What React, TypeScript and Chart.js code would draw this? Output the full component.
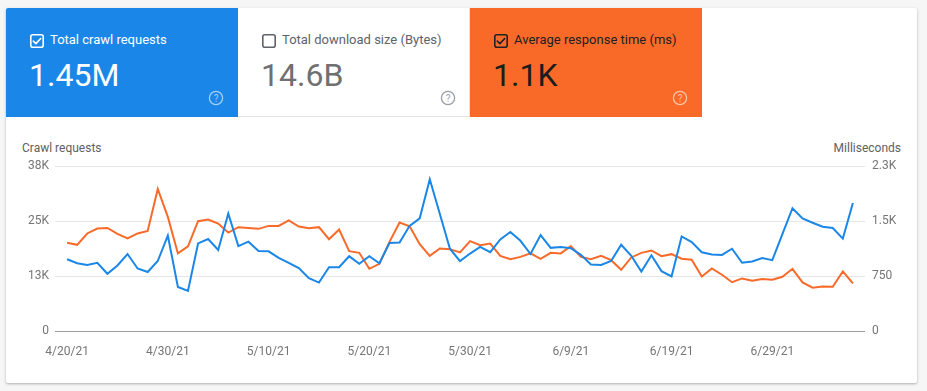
import React, { useEffect, useRef } from "react";
import { Chart, registerables } from "chart.js";

Chart.register(...registerables);

const dates = [
  "4/20/21", "4/21/21", "4/22/21", "4/23/21", "4/24/21", "4/25/21", "4/26/21", "4/27/21", "4/28/21", "4/29/21", "4/30/21",
  "5/1/21", "5/2/21", "5/3/21", "5/4/21", "5/5/21", "5/6/21", "5/7/21", "5/8/21", "5/9/21", "5/10/21",
  "5/11/21", "5/12/21", "5/13/21", "5/14/21", "5/15/21", "5/16/21", "5/17/21", "5/18/21", "5/19/21", "5/20/21",
  "5/21/21", "5/22/21", "5/23/21", "5/24/21", "5/25/21", "5/26/21", "5/27/21", "5/28/21", "5/29/21", "5/30/21", "5/31/21",
  "6/1/21", "6/2/21", "6/3/21", "6/4/21", "6/5/21", "6/6/21", "6/7/21", "6/8/21", "6/9/21", "6/10/21",
  "6/11/21", "6/12/21", "6/13/21", "6/14/21", "6/15/21", "6/16/21", "6/17/21", "6/18/21", "6/19/21", "6/20/21",
  "6/21/21", "6/22/21", "6/23/21", "6/24/21", "6/25/21", "6/26/21", "6/27/21", "6/28/21", "6/29/21", "6/30/21",
  "7/1/21", "7/2/21", "7/3/21", "7/4/21", "7/5/21", "7/6/21", "7/7/21",
];

// Total crawl requests per day
const crawlRequests = [
  16300, 15400, 15000, 15500, 13000, 14900, 17500, 14200, 13400, 15900, 21700, 10000, 9100,
  19900, 20900, 18400, 26700, 19300, 20300, 18200, 18100, 16600, 15500, 14300, 12000, 11000,
  14500, 14500, 17000, 15300, 17000, 15400, 20000, 20100, 23900, 25600, 34500, 26600, 18700, 15900,
  17600, 19100, 17900, 20800, 22500, 20500, 17500, 21800, 18900, 19100, 18800, 17300, 15100, 15000,
  15900, 19600, 17100, 13500, 17200, 13600, 12400, 21500, 20200, 17900, 17400, 17300, 18700,
  15500, 15800, 16600, 16100, 22000, 27900, 25600, 24600, 23700, 23400, 21000, 29100,
];

// Average response time (ms) per day
const responseTimeMs = [
  1202, 1175, 1330, 1398, 1406, 1325, 1262, 1330, 1365, 1937, 1556, 1058, 1153,
  1497, 1520, 1466, 1343, 1416, 1406, 1393, 1433, 1433, 1507, 1425, 1402, 1416,
  1252, 1384, 1089, 1066, 848, 916, 1215, 1480, 1429, 1184, 1025, 1125, 1116, 1071,
  1225, 1171, 1193, 1025, 980, 1011, 1058, 985, 1066, 1058, 1157, 1011, 980, 1025,
  966, 835, 1003, 1066, 1098, 1021, 1048, 985, 971, 744, 853, 767, 665,
  717, 685, 708, 698, 739, 848, 663, 590, 608, 603, 812, 649,
];

const leftTickValues = [0, 12500, 25000, 37500];
const leftTickLabels = ["0", "13K", "25K", "38K"];
const rightTickValues = [0, 750, 1500, 2250];
const rightTickLabels = ["0", "750", "1.5K", "2.3K"];
const xTickIndices = [0, 10, 20, 30, 40, 50, 60, 70];

const BLUE = "#1a87e8";
const ORANGE = "#f96a29";
const FONT = "Roboto, 'Noto Sans', sans-serif";

function CheckBox({ color, checked }: { color: string; checked: boolean }) {
  return (
    <svg width={14} height={14} viewBox="0 0 14 14" style={{ position: "absolute", left: 24, top: 26 }}>
      <rect x={0.8} y={0.8} width={12.4} height={12.4} rx={2} fill="none" stroke={color} strokeWidth={1.6} />
      {checked && (
        <path d="M3.3 7.1 L5.9 9.6 L10.7 4.5" fill="none" stroke={color} strokeWidth={1.6} strokeLinecap="round" strokeLinejoin="round" />
      )}
    </svg>
  );
}

function HelpIcon({ color }: { color: string }) {
  return (
    <svg width={16} height={16} viewBox="0 0 16 16" style={{ position: "absolute", left: 202, top: 82 }}>
      <circle cx={8} cy={8} r={6.6} fill="none" stroke={color} strokeWidth={1.3} />
      <text x={8} y={11.6} textAnchor="middle" fontSize={10} fontFamily={FONT} fill={color}>?</text>
    </svg>
  );
}

function Tab(props: {
  left: number;
  bg: string;
  label: string;
  value: string;
  labelColor: string;
  valueColor: string;
  boxColor: string;
  checked: boolean;
  helpColor: string;
  bordered?: boolean;
}) {
  return (
    <div
      style={{
        position: "absolute",
        left: props.left,
        top: 0,
        width: 232,
        height: 109,
        background: props.bg,
        boxSizing: "border-box",
        borderRight: props.bordered ? "1px solid #e3e3e3" : undefined,
        borderBottom: props.bordered ? "1px solid #e3e3e3" : undefined,
      }}
    >
      <CheckBox color={props.boxColor} checked={props.checked} />
      <div
        style={{
          position: "absolute",
          left: 44,
          top: 24,
          fontSize: 13,
          lineHeight: "16px",
          color: props.labelColor,
          whiteSpace: "nowrap",
        }}
      >
        {props.label}
      </div>
      <div
        style={{
          position: "absolute",
          left: 23,
          top: 51,
          fontSize: 32,
          lineHeight: "32px",
          color: props.valueColor,
          whiteSpace: "nowrap",
        }}
      >
        {props.value}
      </div>
      <HelpIcon color={props.helpColor} />
    </div>
  );
}

export default function App() {
  const canvasRef = useRef<HTMLCanvasElement | null>(null);

  useEffect(() => {
    if (!canvasRef.current) return;
    const tickFont = { family: FONT, size: 12 };
    const chart = new Chart(canvasRef.current, {
      type: "line",
      data: {
        datasets: [
          {
            label: "Total crawl requests",
            data: crawlRequests.map((v, i) => ({ x: i, y: v })),
            borderColor: BLUE,
            backgroundColor: BLUE,
            borderWidth: 2,
            pointRadius: 0,
            tension: 0,
            yAxisID: "y",
          },
          {
            label: "Average response time (ms)",
            data: responseTimeMs.map((v, i) => ({ x: i, y: v })),
            borderColor: ORANGE,
            backgroundColor: ORANGE,
            borderWidth: 2,
            pointRadius: 0,
            tension: 0,
            yAxisID: "y1",
          },
        ],
      },
      options: {
        responsive: false,
        animation: false,
        events: [],
        layout: { padding: { top: 48, left: 0, right: 0, bottom: 0 } },
        plugins: {
          legend: { display: false },
          tooltip: { enabled: false },
        },
        scales: {
          x: {
            type: "linear",
            min: -1.2,
            max: 79.2,
            grid: { display: false, drawTicks: false },
            border: { display: false },
            afterBuildTicks: (s: any) => {
              s.ticks = xTickIndices.map((v) => ({ value: v }));
            },
            afterFit: (s: any) => {
              s.height = 47;
            },
            ticks: {
              font: tickFont,
              color: "#757575",
              padding: 14,
              maxRotation: 0,
              autoSkip: false,
              callback: (v: any) => dates[v as number] ?? "",
            },
          },
          y: {
            position: "left",
            min: 0,
            max: 37500,
            afterBuildTicks: (s: any) => {
              s.ticks = leftTickValues.map((v) => ({ value: v }));
            },
            afterFit: (s: any) => {
              s.width = 49;
            },
            grid: {
              drawTicks: false,
              color: (ctx: any) => (ctx.tick && ctx.tick.value === 0 ? "#9e9e9e" : "#e6e6e6"),
              lineWidth: 1,
            },
            border: { display: false },
            ticks: {
              font: tickFont,
              color: "#757575",
              padding: 6,
              callback: (v: any) => leftTickLabels[leftTickValues.indexOf(v as number)] ?? "",
            },
          },
          y1: {
            position: "right",
            min: 0,
            max: 2250,
            afterBuildTicks: (s: any) => {
              s.ticks = rightTickValues.map((v) => ({ value: v }));
            },
            afterFit: (s: any) => {
              s.width = 52;
            },
            grid: { display: false, drawTicks: false },
            border: { display: false },
            ticks: {
              font: tickFont,
              color: "#757575",
              padding: 7,
              callback: (v: any) => rightTickLabels[rightTickValues.indexOf(v as number)] ?? "",
            },
          },
        },
      } as any,
    });
    return () => chart.destroy();
  }, []);

  return (
    <div
      style={{
        position: "absolute",
        left: 0,
        top: 0,
        width: 927,
        height: 391,
        background: "#f6f6f6",
        fontFamily: FONT,
        overflow: "hidden",
      }}
    >
      <div
        style={{
          position: "absolute",
          left: 6,
          top: 8,
          width: 911,
          height: 375,
          background: "#ffffff",
          borderRadius: 2,
          boxShadow: "0 1px 3px rgba(60,64,67,0.28), 0 1px 2px rgba(60,64,67,0.12)",
          overflow: "hidden",
        }}
      >
        <Tab
          left={0}
          bg={BLUE}
          label="Total crawl requests"
          value="1.45M"
          labelColor="#ffffff"
          valueColor="#ffffff"
          boxColor="#ffffff"
          checked={true}
          helpColor="rgba(255,255,255,0.6)"
        />
        <Tab
          left={232}
          bg="#ffffff"
          label="Total download size (Bytes)"
          value="14.6B"
          labelColor="#5f6368"
          valueColor="#707070"
          boxColor="#5f6368"
          checked={false}
          helpColor="#9aa0a6"
          bordered={true}
        />
        <Tab
          left={464}
          bg={ORANGE}
          label="Average response time (ms)"
          value="1.1K"
          labelColor="#202124"
          valueColor="#1c1c1c"
          boxColor="#202124"
          checked={true}
          helpColor="rgba(255,255,255,0.6)"
        />
        <div
          style={{
            position: "absolute",
            left: 16,
            top: 133,
            fontSize: 12,
            lineHeight: "14px",
            color: "#616161",
          }}
        >
          Crawl requests
        </div>
        <div
          style={{
            position: "absolute",
            right: 16,
            top: 133,
            fontSize: 12,
            lineHeight: "14px",
            color: "#616161",
          }}
        >
          Milliseconds
        </div>
        <canvas
          ref={canvasRef}
          width={911}
          height={260}
          style={{ position: "absolute", left: 0, top: 110, width: 911, height: 260 }}
        />
      </div>
    </div>
  );
}
